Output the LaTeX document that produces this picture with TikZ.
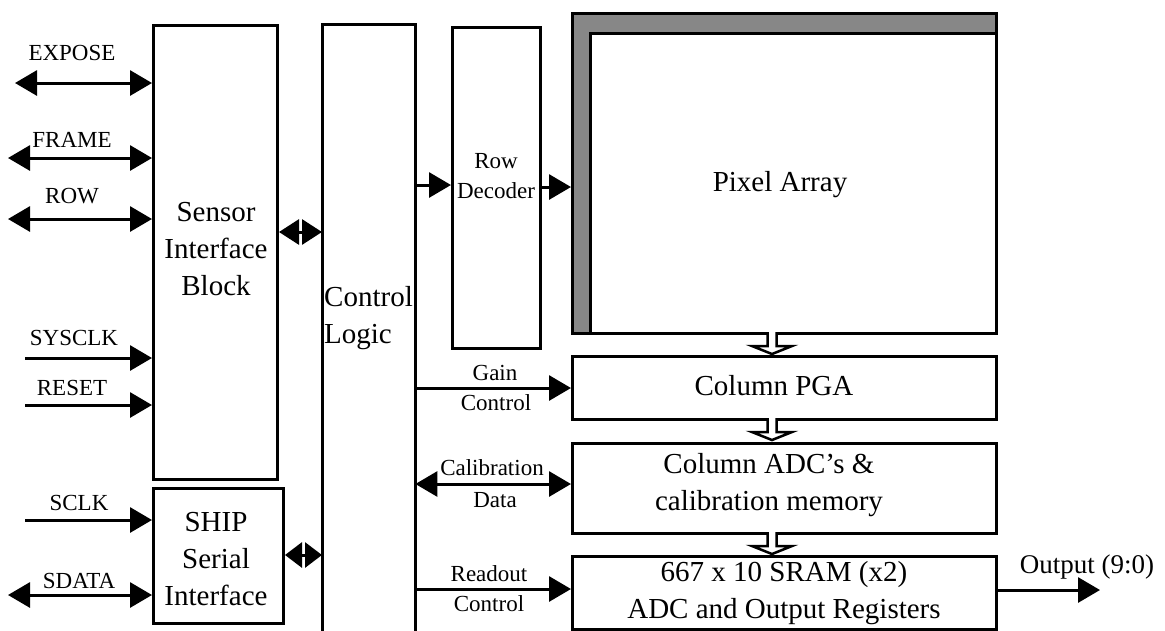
\documentclass[tikz,border=0pt]{standalone}
\usepackage{fontspec}
\setmainfont{Liberation Serif}
\usetikzlibrary{arrows.meta,calc}
\definecolor{framegray}{RGB}{135,135,135}
\begin{document}
\begin{tikzpicture}[x=1pt,y=-1pt,
  box/.style={draw, line width=3pt, inner sep=0pt, anchor=north west},
  bigtxt/.style={font=\fontsize{29}{37}\selectfont, align=center, inner sep=0pt},
  smalltxt/.style={font=\fontsize{23}{30}\selectfont, align=center, inner sep=0pt},
  arr/.style={line width=3pt, -{Triangle[length=22pt,width=25pt]}},
  darr/.style={line width=3pt, {Triangle[length=22pt,width=25pt]}-{Triangle[length=22pt,width=25pt]}},
  mdarr/.style={line width=3pt, {Triangle[length=20pt,width=25pt]}-{Triangle[length=20pt,width=25pt]}},
  sdarr/.style={line width=3pt, {Triangle[length=17pt,width=25pt]}-{Triangle[length=17pt,width=25pt]}},
  hollow/.style={draw, line width=2.5pt, fill=white, line join=miter},
  hol/.pic={\path[hollow] (-4.5,0) -- (-4.5,14) -- (-20,14) -- (0,22) -- (20,14) -- (4.5,14) -- (4.5,0);}
]
\fill[white] (0,0) rectangle (1165,630);
\useasboundingbox (0,0) rectangle (1165,630);

% blocks
\node[box, minimum width=124pt, minimum height=454pt] (sib) at (152,24) {};
\node[bigtxt] (sibt) at (216,249) {Sensor\\Interface\\Block};
\node[box, minimum width=130pt, minimum height=135pt] (ship) at (152,487) {};
\node[bigtxt] (shipt) at (216,559) {SHIP\\Serial\\Interface};
\node[inner sep=0pt, anchor=north west, minimum width=93pt, minimum height=620pt] (ctrl) at (322,24) {};
\draw[line width=3pt] (ctrl.south west) |- (ctrl.north east) -- (ctrl.south east);
\node[bigtxt, align=left, anchor=west] (ctrlt) at (324,318) {Control\\Logic};
\node[box, minimum width=88pt, minimum height=321pt] (rowdec) at (451,26) {};
\node[smalltxt] (rowdect) at (496,176) {Row\\Decoder};
\node[box, fill=framegray, minimum width=424pt, minimum height=320pt] (pix) at (571,12) {};
\node[box, fill=white, minimum width=406pt, minimum height=300pt] (pixin) at (589,32) {};
\node[bigtxt] (pixt) at (780,185) {Pixel Array};
\node[box, minimum width=424pt, minimum height=63pt] (pga) at (571,355) {};
\node[bigtxt] (pgat) at (774,386) {Column PGA};
\node[box, minimum width=424pt, minimum height=90pt] (adc) at (571,442) {};
\node[bigtxt] (adct) at (769,485) {Column ADC’s \&\\calibration memory};
\node[box, minimum width=424pt, minimum height=73pt] (sram) at (571,555) {};
\node[bigtxt] (sramt) at (784,593) {667 x 10 SRAM (x2)\\ADC and Output Registers};

% hollow bus arrows
\pic at (772,332) {hol};
\pic at (772,418) {hol};
\pic at (772,532) {hol};

% left signals
\coordinate (cExp) at (15,83);
\coordinate (cFrm) at (8,158);
\coordinate (cRow) at (8,219);
\coordinate (cSys) at (25,358);
\coordinate (cRst) at (25,405);
\coordinate (cSck) at (25,520);
\coordinate (cSda) at (8,595);
\draw[darr] (cExp) -- (cExp -| sib.west);
\draw[darr] (cFrm) -- (cFrm -| sib.west);
\draw[darr] (cRow) -- (cRow -| sib.west);
\draw[arr] (cSys) -- (cSys -| sib.west);
\draw[arr] (cRst) -- (cRst -| sib.west);
\draw[arr] (cSck) -- (cSck -| ship.west);
\draw[darr] (cSda) -- (cSda -| ship.west);
\node[smalltxt] (lExp) at (72,53) {EXPOSE};
\node[smalltxt] (lFrm) at (72,140) {FRAME};
\node[smalltxt] (lRow) at (72,196) {ROW};
\node[smalltxt] (lSys) at (74,338) {SYSCLK};
\node[smalltxt] (lRst) at (72,388) {RESET};
\node[smalltxt] (lSck) at (79,503) {SCLK};
\node[smalltxt] (lSda) at (79,581) {SDATA};

% internal connections
\coordinate (ySib) at (0,232);
\coordinate (yShip) at (0,555);
\coordinate (yRd) at (0,185);
\coordinate (yPx) at (0,187);
\coordinate (yGain) at (0,388);
\coordinate (yCal) at (0,484);
\coordinate (yRo) at (0,589);
\coordinate (yOut) at (0,590);
\coordinate (cOut) at (1100,590);
\draw[mdarr] (sib.east |- ySib) -- (ctrl.west |- ySib);
\draw[sdarr] (ship.east |- yShip) -- (ctrl.west |- yShip);
\draw[arr] (ctrl.east |- yRd) -- (rowdec.west |- yRd);
\draw[arr] (rowdec.east |- yPx) -- (pix.west |- yPx);
\draw[arr] (ctrl.east |- yGain) -- (pga.west |- yGain);
\draw[darr] (ctrl.east |- yCal) -- (adc.west |- yCal);
\draw[arr] (ctrl.east |- yRo) -- (sram.west |- yRo);
\draw[arr] (sram.east |- yOut) -- (cOut);
\node[smalltxt] (lGain) at (495,373) {Gain};
\node[smalltxt] (lGainC) at (496,403) {Control};
\node[smalltxt] (lCal) at (492,468) {Calibration};
\node[smalltxt] (lCalD) at (495,500) {Data};
\node[smalltxt] (lRo) at (489,574) {Readout};
\node[smalltxt] (lRoC) at (489,604) {Control};
\node[font=\fontsize{27}{32}\selectfont, inner sep=0pt] (lOut) at (1087,567) {Output (9:0)};
\end{tikzpicture}
\end{document}
